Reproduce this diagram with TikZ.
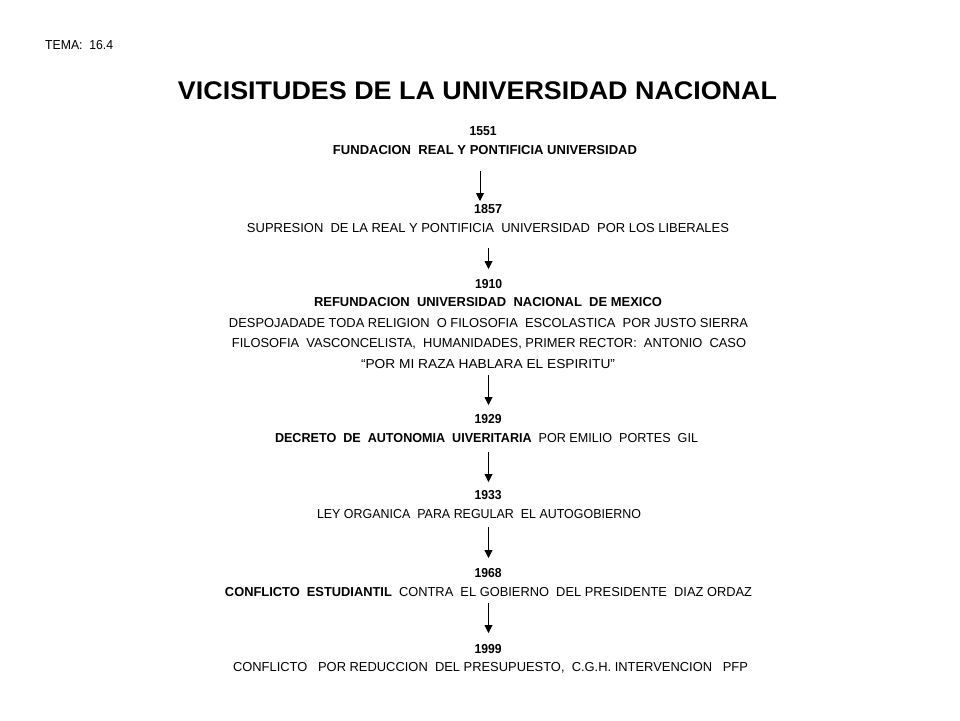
\documentclass[tikz,border=0pt]{standalone}
\usepackage{fontspec}
\usepackage{graphicx}
\setmainfont{Liberation Sans}
\usetikzlibrary{arrows.meta}
\newcommand{\fitw}[2]{\resizebox{#1pt}{\height}{#2}}
\begin{document}
\begin{tikzpicture}[x=1pt,y=-1pt,
  txt/.style={inner sep=0pt,anchor=center,font=\fontsize{13}{15}\selectfont},
  yr/.style={txt,font=\fontsize{13}{15}\selectfont\bfseries},
  arr/.style={line width=0.9pt,-{Triangle[width=8pt,length=8pt]}}]
\useasboundingbox[fill=white] (0,0) rectangle (960,720);
\node[txt,anchor=west] (tema) at (45,45) {\fitw{68}{TEMA:\ \ 16.4}};
\node[inner sep=0pt,font=\fontsize{25.5}{30}\selectfont\bfseries] (title) at (477.5,91) {\fitw{599}{VICISITUDES DE LA UNIVERSIDAD NACIONAL}};
\node[yr] (y1) at (483,131) {\fitw{27}{1551}};
\node[yr] (t1) at (485,150) {\fitw{304}{FUNDACION\ \ REAL\ Y PONTIFICIA UNIVERSIDAD}};
\node[yr] (y2) at (488,209) {\fitw{28}{1857}};
\node[txt] (t2) at (488,228) {\fitw{482}{SUPRESION\ \ DE LA REAL Y PONTIFICIA\ \ UNIVERSIDAD\ \ POR LOS LIBERALES}};
\node[yr] (y3) at (488.5,284) {\fitw{27}{1910}};
\node[yr] (t3a) at (488,302) {\fitw{348}{REFUNDACION\ \ UNIVERSIDAD\ \ NACIONAL\ \ DE MEXICO}};
\node[txt] (t3b) at (488.5,323) {\fitw{519}{DESPOJADADE TODA RELIGION\ \ O FILOSOFIA\ \ ESCOLASTICA\ \ POR JUSTO SIERRA}};
\node[txt] (t3c) at (489,344) {\fitw{514}{FILOSOFIA\ \ VASCONCELISTA,\ \ HUMANIDADES,\ PRIMER RECTOR:\ \ ANTONIO\ \ CASO}};
\node[txt] (t3d) at (488,364) {\fitw{254}{“POR MI RAZA HABLARA EL ESPIRITU”}};
\node[yr] (y4) at (488,419) {\fitw{27}{1929}};
\node[txt] (t4) at (486.5,438) {\fitw{423}{\textbf{DECRETO\ \ DE\ \ AUTONOMIA\ \ UIVERITARIA}\ \ POR EMILIO\ \ PORTES\ \ GIL}};
\node[yr] (y5) at (488,495) {\fitw{27}{1933}};
\node[txt] (t5) at (479,514) {\fitw{324}{LEY ORGANICA\ \ PARA REGULAR\ \ EL AUTOGOBIERNO}};
\node[yr] (y6) at (488,573) {\fitw{27}{1968}};
\node[txt] (t6) at (488.5,592) {\fitw{527}{\textbf{CONFLICTO\ \ ESTUDIANTIL}\ \ CONTRA\ \ EL GOBIERNO\ \ DEL PRESIDENTE\ \ DIAZ ORDAZ}};
\node[yr] (y7) at (488,649) {\fitw{27}{1999}};
\node[txt] (t7) at (490.5,668) {\fitw{515}{CONFLICTO\ \ \ POR REDUCCION\ \ DEL PRESUPUESTO,\ \ C.G.H.\ INTERVENCION\ \ \ PFP}};
\coordinate (a1s) at (480,171); \coordinate (a1e) at (480,201);
\coordinate (a2s) at (488.5,248); \coordinate (a2e) at (488.5,269);
\coordinate (a3s) at (488.5,375); \coordinate (a3e) at (488.5,405);
\coordinate (a4s) at (488.5,452); \coordinate (a4e) at (488.5,482);
\coordinate (a5s) at (488.5,527); \coordinate (a5e) at (488.5,558);
\coordinate (a6s) at (488.5,603); \coordinate (a6e) at (488.5,633);
\draw[arr] (a1s) -- (a1e);
\draw[arr] (a2s) -- (a2e);
\draw[arr] (a3s) -- (a3e);
\draw[arr] (a4s) -- (a4e);
\draw[arr] (a5s) -- (a5e);
\draw[arr] (a6s) -- (a6e);
\end{tikzpicture}
\end{document}
